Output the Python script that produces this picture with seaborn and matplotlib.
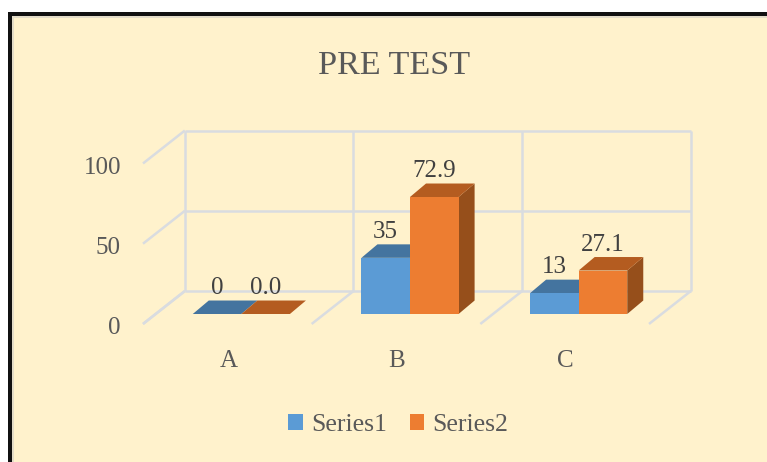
import matplotlib
matplotlib.use("Agg")
import matplotlib.pyplot as plt
import matplotlib.transforms as mtrans
from matplotlib.patches import Polygon, Rectangle
import pandas as pd
import seaborn as sns

categories = ["A", "B", "C"]
series1 = [0, 35, 13]
series2 = [0.0, 72.9, 27.1]
series_names = ["Series1", "Series2"]
y_ticks = [0, 50, 100]

BG = "#FFF2CC"
GRID = "#D9DCE0"
TEXT = "#595959"
LABEL = "#404040"
BAR_COLORS = ["#5B9BD5", "#ED7D31"]
TOP_COLORS = ["#44749F", "#B45C20"]
SIDE_COLORS = ["#3A6488", "#964F1B"]

# fake 3d depth, in data units
BAR_DX, BAR_DY = 0.095, 8.4
BACK_DX, BACK_DY = 0.165, 14.3
FRONT_DX, FRONT_DY = -0.083, -6.2

W, H = 767, 462


def px_rect(fig, x0, y0, color):
    # rectangle from a pixel corner (top-left origin) to the bottom right of the figure
    fig.add_artist(Rectangle((x0 / W, 0), 1 - x0 / W, 1 - y0 / H,
                             transform=fig.transFigure, facecolor=color,
                             edgecolor="none", zorder=-10))


def main():
    sns.set_theme(style="white")
    plt.rcParams["font.family"] = ["Liberation Serif", "DejaVu Serif"]

    df = pd.DataFrame({
        "Category": categories * 2,
        "Value": series1 + series2,
        "Series": [series_names[0]] * 3 + [series_names[1]] * 3,
    })

    fig = plt.figure(figsize=(W / 100, H / 100), dpi=100, facecolor="white")
    px_rect(fig, 8, 12, "#111111")
    px_rect(fig, 12, 16, "#E3DCC8")
    px_rect(fig, 14, 18, BG)

    ax = fig.add_axes([157 / W, (H - 314) / H, 506 / W, 160.5 / H])
    ax.patch.set_visible(False)

    sns.barplot(data=df, x="Category", y="Value", hue="Series", order=categories,
                palette=BAR_COLORS, saturation=1, width=0.576, gap=0, ax=ax, zorder=3,
                edgecolor="none", linewidth=0)
    ax.set_xlim(-0.5, 2.5)
    ax.set_ylim(0, 100)
    ax.set_xlabel("")
    ax.set_ylabel("")
    sns.despine(ax=ax, left=True, bottom=True)

    # back wall and floor
    grid = dict(color=GRID, lw=1.8, clip_on=False, zorder=1, solid_capstyle="butt")
    for v in y_ticks:
        ax.plot([-0.5 + BACK_DX, 2.5 + BACK_DX], [v + BACK_DY] * 2, **grid)
        ax.plot([-0.5 + FRONT_DX, -0.5 + BACK_DX],
                [v + FRONT_DY, v + BACK_DY], **grid)
    for i in range(4):
        x = i - 0.5
        ax.plot([x + BACK_DX] * 2, [BACK_DY, 100 + BACK_DY], **grid)
        ax.plot([x + FRONT_DX, x + BACK_DX], [FRONT_DY, BACK_DY], **grid)

    # tops and sides of the bars, then the value labels
    for s, container in enumerate(ax.containers):
        for bar in container:
            x0, w, h = bar.get_x(), bar.get_width(), bar.get_height()
            x1 = x0 + w
            top = [(x0, h), (x1, h), (x1 + BAR_DX, h + BAR_DY), (x0 + BAR_DX, h + BAR_DY)]
            side = [(x1, 0), (x1 + BAR_DX, BAR_DY), (x1 + BAR_DX, h + BAR_DY), (x1, h)]
            ax.add_patch(Polygon(side, facecolor=SIDE_COLORS[s], edgecolor="none",
                                 clip_on=False, zorder=2))
            ax.add_patch(Polygon(top, facecolor=TOP_COLORS[s], edgecolor="none",
                                 clip_on=False, zorder=2 + 0.1 * s))
            fmt = "{:g}" if s == 0 else "{:.1f}"
            ax.annotate(fmt.format(h), (x0 + w / 2, h + BAR_DY), xytext=(0, 8.8),
                        textcoords="offset points", ha="center", va="center",
                        fontsize=18, color=LABEL, annotation_clip=False, zorder=5)

    # axis labels sit on the front edge of the floor, not under the bars
    ax.set_yticks(y_ticks)
    ax.tick_params(axis="y", length=0, pad=26, labelsize=18, labelcolor=TEXT)
    ax.tick_params(axis="x", length=0, pad=26, labelsize=18, labelcolor=TEXT)
    for lab in ax.get_yticklabels():
        lab.set_transform(lab.get_transform() + mtrans.Affine2D().translate(0, -11.5))
    for lab in ax.get_xticklabels():
        lab.set_transform(lab.get_transform() + mtrans.Affine2D().translate(-13, 0))

    sns.move_legend(ax, "center", bbox_to_anchor=(398.5 / W, 1 - 425 / H),
                    bbox_transform=fig.transFigure, ncol=2, frameon=False, title=None,
                    fontsize=18.5, labelcolor=TEXT, handlelength=0.56, handleheight=0.58,
                    handletextpad=0.32, columnspacing=0.9)

    fig.text(394 / W, 1 - 66 / H, "PRE TEST", ha="center", va="center",
             fontsize=24.6, color=TEXT)

    fig.savefig("out.png", dpi=100, facecolor=fig.get_facecolor())


if __name__ == "__main__":
    main()
